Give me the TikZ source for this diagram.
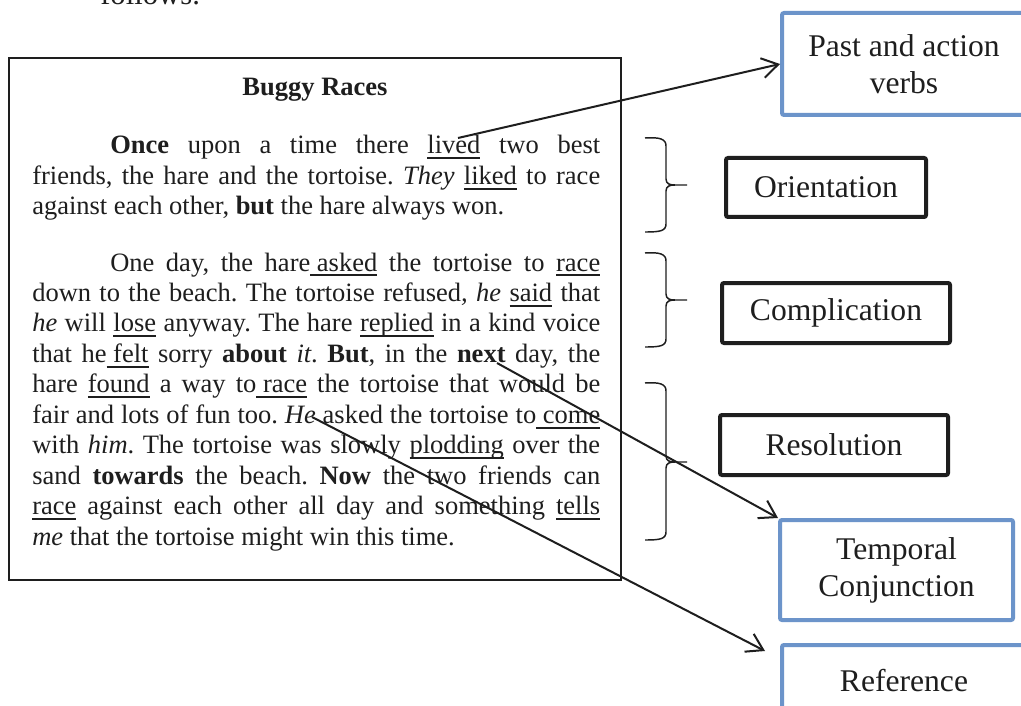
\documentclass[tikz,border=0pt]{standalone}
\usepackage{fontspec}
\setmainfont{Liberation Serif}
\usetikzlibrary{arrows.meta,calc}
\definecolor{boxblue}{RGB}{108,148,202}
\definecolor{ink}{RGB}{30,30,30}
\newcommand\ulw[1]{\setbox0\hbox{#1}\rlap{\rule[-4pt]{\wd0}{1.4pt}}\box0\relax}
\newcommand\bodyfont{\fontsize{19.875pt}{22.875pt}\selectfont\frenchspacing}
\newcommand\labelfont{\fontsize{23.7pt}{27.75pt}\selectfont}
\newcommand\jl[1]{\makebox[426pt][s]{#1}\par}
\tikzset{
  lbl/.style={draw, line width=3pt, rounded corners=1.5pt, font=\labelfont, align=center, inner sep=0pt, text=ink},
  blbl/.style={lbl, draw=boxblue},
  klbl/.style={lbl, draw=ink},
  arr/.style={draw=ink, line width=1.5pt, -{Straight Barb[length=12pt,width=15pt]}},
  brc/.style={draw=ink, line width=1.1pt},
  txt/.style={inner sep=0pt, text=ink}
}
\begin{document}
\begin{tikzpicture}[x=0.75pt,y=-0.75pt]
\useasboundingbox[fill=white] (0,0) rectangle (1021,706);

\node[txt, anchor=base west] (follows) at (100,5) {\fontsize{23pt}{27pt}\selectfont follows.};

\node[draw=ink, line width=1.5pt, minimum width=459pt, minimum height=391.5pt, inner sep=0pt] (story) at (315,319) {};

\node[txt, anchor=base] (title) at (315,96) {\bodyfont\textbf{Buggy Races}};

\node[txt, anchor=base west] (para1) at (32,154) {\parbox[t]{426pt}{\bodyfont\parindent=0pt\lineskiplimit=-20pt
\jl{\hspace*{58.5pt}\textbf{Once} upon a time there \ulw{lived} two best}
\jl{friends, the hare and the tortoise. \textit{They} \ulw{liked} to race}
against each other, \textbf{but} the hare always won.}};

\node[txt, anchor=base west] (para2) at (32,271) {\parbox[t]{426pt}{\bodyfont\parindent=0pt\lineskiplimit=-20pt
\jl{\hspace*{58.5pt}One day, the hare\ulw{\ asked} the tortoise to \ulw{race}}
\jl{down to the beach. The tortoise refused\textit{,} \textit{he} \ulw{said} that}
\jl{\textit{he} will \ulw{lose} anyway. The hare \ulw{replied} in a kind voice}
\jl{that he\ulw{\ felt} sorry \textbf{about} \textit{it}. \textbf{But}, in the \textbf{next} day, the}
\jl{hare \ulw{found} a way to\ulw{\ race} the tortoise that would be}
\jl{fair and lots of fun too. \textit{He} asked the tortoise to\ulw{\ come}}
\jl{with \textit{him}. The tortoise was slowly \ulw{plodding} over the}
\jl{sand \textbf{towards} the beach. \textbf{Now} the two friends can}
\jl{\ulw{race} against each other all day and something \ulw{tells}}
\textit{me} that the tortoise might win this time.}};

% label boxes
\node[blbl, minimum width=183pt, minimum height=76.5pt] (past) at (904,64) {Past and action\\verbs};
\node[klbl, minimum width=150pt, minimum height=44.25pt] (orient) at (826,187.5) {Orientation};
\node[klbl, minimum width=171pt, minimum height=45pt] (compl) at (836,313) {Complication};
\node[klbl, minimum width=171pt, minimum height=45pt] (resol) at (834,445) {Resolution};
\node[blbl, minimum width=174.75pt, minimum height=75pt] (temp) at (896.5,570) {Temporal\\Conjunction};
\node[blbl, minimum width=183pt, minimum height=53.25pt] (ref) at (904,680.5) {Reference};

% braces
\draw[brc] (645,138) .. controls (660,137) and (666,139) .. (666,146) -- (666,179)
  .. controls (666,184) and (670,185) .. (675,185) -- (687,185)
  (675,185) .. controls (670,185) and (666,186) .. (666,191) -- (666,224)
  .. controls (666,231) and (660,232) .. (645,232);
\draw[brc] (645,253) .. controls (660,252) and (666,254) .. (666,261) -- (666,294)
  .. controls (666,299) and (670,300) .. (675,300) -- (687,300)
  (675,300) .. controls (670,300) and (666,301) .. (666,306) -- (666,339)
  .. controls (666,346) and (660,347) .. (645,347);
\draw[brc] (645,383) .. controls (660,382) and (666,384) .. (666,391) -- (666,456)
  .. controls (666,461) and (670,462) .. (675,462) -- (687,462)
  (675,462) .. controls (670,462) and (666,463) .. (666,468) -- (666,532)
  .. controls (666,539) and (660,540) .. (645,540);

% arrows
\coordinate (lived) at (458,138);
\coordinate (next) at (497,363);
\coordinate (he) at (312,417);
\coordinate (refend) at ($(ref.north west)+(-15,8)$);
\draw[arr] (lived) -- (past.west);
\draw[arr] (next) -- (temp.north west);
\draw[arr] (he) -- (refend);
\end{tikzpicture}
\end{document}
